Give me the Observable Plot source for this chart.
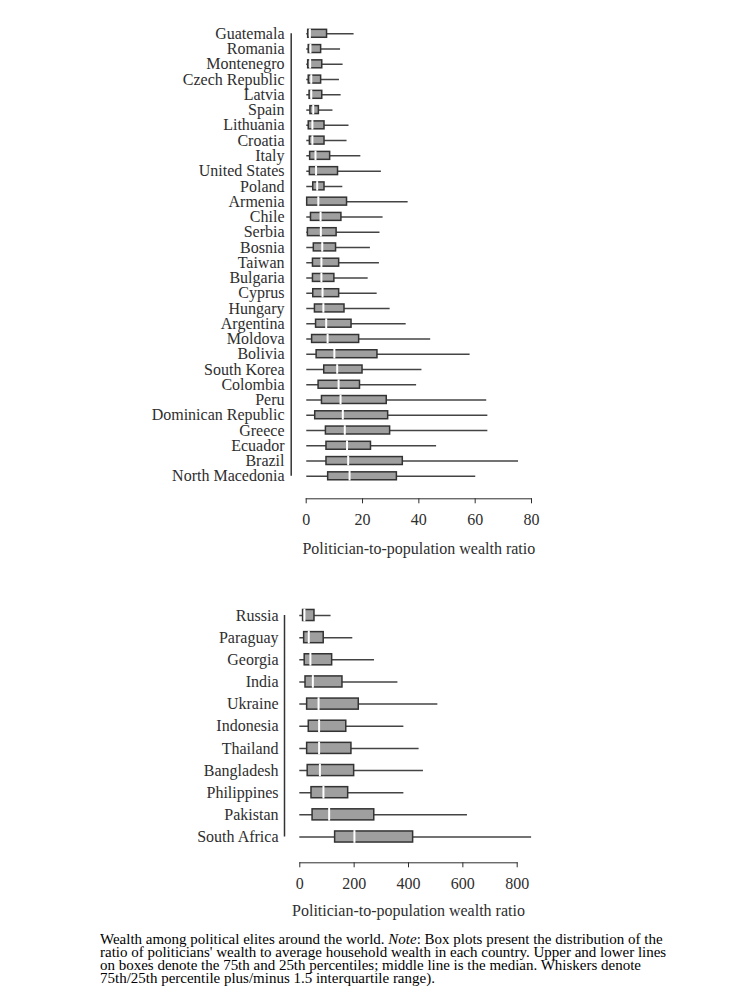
<!DOCTYPE html>
<html><head><meta charset="utf-8">
<script src="https://cdn.jsdelivr.net/npm/d3@7"></script>
<script src="https://cdn.jsdelivr.net/npm/@observablehq/plot@0.6"></script>
<style>
body{margin:0;background:#fff;}
#wrap{position:relative;width:755px;height:1000px;overflow:hidden;}
.chart{position:absolute;left:0;}
#caption{position:absolute;left:100px;top:934.4px;font-family:"Liberation Serif",serif;font-size:14px;line-height:12.7px;color:#000;white-space:nowrap;transform:scaleX(1.07);transform-origin:0 0;}
</style></head>
<body>
<div id="wrap">
<div id="c1" class="chart" style="top:0px"></div>
<div id="c2" class="chart" style="top:580px"></div>
<div id="caption">Wealth among political elites around the world. <i>Note</i>: Box plots present the distribution of the<br>ratio of politicians' wealth to average household wealth in each country. Upper and lower lines<br>on boxes denote the 75th and 25th percentiles; middle line is the median. Whiskers denote<br>75th/25th percentile plus/minus 1.5 interquartile range).</div>
</div>
<script>
// ---- Top panel data ----
const countriesA = ["Guatemala","Romania","Montenegro","Czech Republic","Latvia","Spain","Lithuania","Croatia","Italy","United States","Poland","Armenia","Chile","Serbia","Bosnia","Taiwan","Bulgaria","Cyprus","Hungary","Argentina","Moldova","Bolivia","South Korea","Colombia","Peru","Dominican Republic","Greece","Ecuador","Brazil","North Macedonia"];
const loA  = [0.2,0.2,0.2,0.2,0.2,0.2,0.2,0.2,0.2,0.2,0.2,0.2,0.2,0.2,0.2,0.2,0.2,0.2,0.2,0.2,0.2,0.2,0.2,0.2,0.2,0.2,0.2,0.2,0.2,0.2];
const q1A  = [0.7,0.9,0.7,0.9,1.2,1.5,0.9,1.3,1.4,1.3,2.5,0.35,1.7,0.6,2.7,2.4,2.4,2.5,3.1,3.5,2.1,3.7,6.4,4.4,5.6,3.2,7.0,7.2,7.2,7.8];
const medA = [1.3,1.5,1.4,1.8,1.8,2.5,2.2,2.2,3.3,3.5,3.9,4.3,5.1,5.2,5.7,5.4,5.4,5.8,6.1,7.1,7.6,10.0,11.0,11.5,12.2,13.0,13.7,14.5,14.9,15.4];
const q3A  = [7.4,5.3,5.7,5.3,5.7,4.5,6.5,6.5,8.5,11.3,6.5,14.5,12.5,10.8,10.6,11.7,10.0,11.7,13.6,16.1,18.8,25.3,20.0,19.1,28.6,29.1,29.8,23.0,34.3,32.2];
const hiA  = [17.0,12.2,13.1,11.8,12.4,9.5,15.2,14.5,19.4,26.7,13.0,36.2,27.3,26.2,22.8,26.0,22.0,25.2,29.8,35.5,44.2,58.2,41.1,39.2,64.1,64.5,64.5,46.3,75.4,60.2];
const ticksA = [0,20,40,60,80];

// ---- Bottom panel data ----
const countriesB = ["Russia","Paraguay","Georgia","India","Ukraine","Indonesia","Thailand","Bangladesh","Philippines","Pakistan","South Africa"];
const loB  = [0,0,0,0,0,0,0,0,0,0,0];
const q1B  = [12,16,18,21,27,33,27,29,43,47,130];
const medB = [17,33,39,48,69,71,71,74,87,108,201];
const q3B  = [54,88,119,157,217,171,190,200,178,274,417];
const hiB  = [115,195,275,361,508,383,439,455,383,617,853];
const ticksB = [0,200,400,600,800];

const xLabel = "Politician-to-population wealth ratio";

function boxChart(o) {
  const n = o.countries.length;
  const step = (o.lastCenter - o.firstCenter) / (n - 1);
  const pad = o.pad;
  const bw = step * (1 - pad);
  const half = step * (1 + pad) / 2;
  const data = o.countries.map((c, i) => ({country: c, lo: o.lo[i], q1: o.q1[i], med: o.med[i], q3: o.q3[i], hi: o.hi[i]}));
  return Plot.plot({
    width: 755,
    height: o.height,
    marginLeft: o.marginLeft,
    marginRight: o.marginRight,
    marginTop: 0,
    marginBottom: o.height - o.axisY,
    style: {fontFamily: '"Liberation Serif", serif', fontSize: "16px", color: "#2e2e2e", background: "white", overflow: "visible"},
    x: {domain: o.xDomain, ticks: o.ticks, tickSize: 5, tickPadding: 10, line: true, label: xLabel, labelAnchor: "center", labelOffset: o.labelOffset, labelArrow: "none"},
    y: {type: "band", domain: o.countries, range: [o.firstCenter - half, o.lastCenter + half], round: false, padding: pad, paddingInner: pad, paddingOuter: pad, align: 0.5, tickSize: 0, tickPadding: o.tickPadY, label: null},
    marks: [
      Plot.ruleX([0], {y1: () => o.countries[0], y2: () => o.countries[n - 1], dx: o.yAxisDx, insetTop: bw / 2, insetBottom: bw / 2, stroke: "#333", strokeWidth: 1.5}),
      Plot.ruleY(data, {y: "country", x1: "lo", x2: "hi", stroke: "#444", strokeWidth: 1.5}),
      Plot.barX(data, {y: "country", x1: "q1", x2: "q3", fill: "#9f9f9f", stroke: "#333", strokeWidth: 1.5}),
      Plot.tickX(data, {y: "country", x: "med", stroke: "white", strokeWidth: 2, insetTop: -0.8, insetBottom: -0.8})
    ]
  });
}

document.getElementById("c1").append(boxChart({
  countries: countriesA, lo: loA, q1: q1A, med: medA, q3: q3A, hi: hiA,
  xDomain: [0, 80], ticks: ticksA,
  marginLeft: 305.7, marginRight: 224,
  firstCenter: 33.3, lastCenter: 475.8, pad: 0.48,
  axisY: 498.3, height: 570, labelOffset: 55, tickPadY: 21.7, yAxisDx: -15
}));

document.getElementById("c2").append(boxChart({
  countries: countriesB, lo: loB, q1: q1B, med: medB, q3: q3B, hi: hiB,
  xDomain: [0, 800], ticks: ticksB,
  marginLeft: 299.3, marginRight: 238.3,
  firstCenter: 35, lastCenter: 256.5, pad: 0.5,
  axisY: 282.3, height: 345, labelOffset: 53, tickPadY: 21.3, yAxisDx: -15.3
}));
</script>
</body></html>
